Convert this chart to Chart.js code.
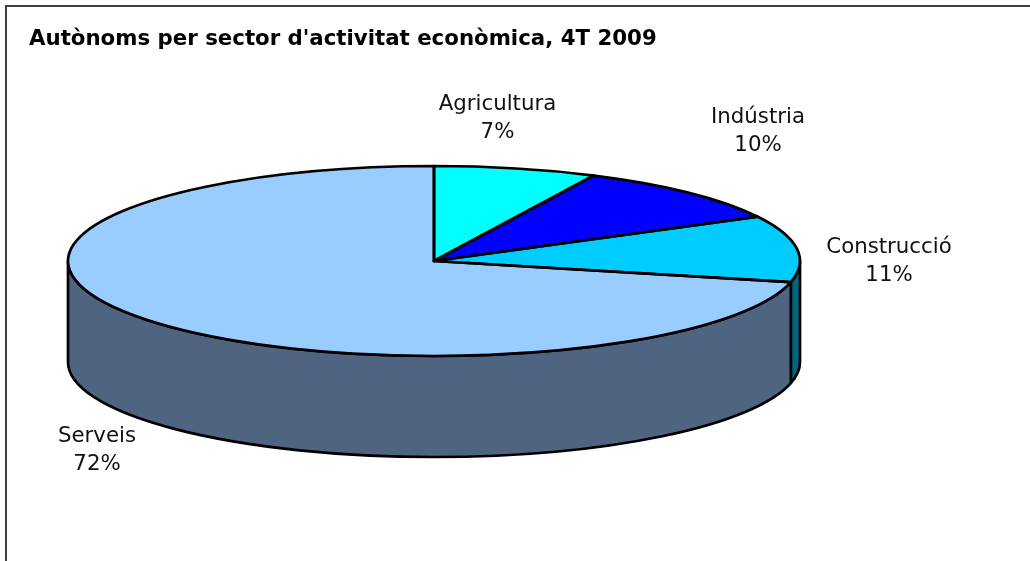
<!DOCTYPE html>
<html>
<head>
<meta charset="utf-8">
<title>Autònoms per sector</title>
<script src="https://cdn.jsdelivr.net/npm/chart.js@4"></script>
<style>
  html, body { margin: 0; padding: 0; background: #fff; overflow: hidden; }
  canvas { display: block; }
</style>
</head>
<body>
<canvas id="pie" width="1030" height="561"></canvas>
<script>
// dades llegides del gràfic
const sectors = ["Agricultura", "Indústria", "Construcció", "Serveis"];
const shares = [7.2, 10.1, 11.3, 71.5];
const topColors = ["#00FFFF", "#0000FF", "#00CCFF", "#99CCFF"];
const wallColors = ["#008080", "#000080", "#006680", "#4F6480"];

// geometria de la pastilla 3D
const pieBox = { cx: 434, cy: 261, rx: 366, ry: 95, depth: 101 };
// centre de cada etiqueta
const labelSpots = [[497.5, 118.5], [758, 131.5], [889, 261.5], [97, 450]];
const labelFont = "21.3px 'DejaVu Sans'";
const labelLine = 28;
const edgeWidth = 2.7;

function sliceAngles(chart) {
    return chart.getDatasetMeta(0).data.map(a => a.getProps(["startAngle", "endAngle"], true));
}

const pie3d = {
    id: "pie3d",
    beforeDraw(chart) {
        // marc gris (només dalt i esquerra, la resta queda fora de la imatge)
        const ctx = chart.ctx;
        ctx.save();
        ctx.strokeStyle = "#404040";
        ctx.lineWidth = 2;
        ctx.beginPath();
        ctx.moveTo(6, 561);
        ctx.lineTo(6, 6);
        ctx.lineTo(1030, 6);
        ctx.stroke();
        ctx.restore();
    },
    beforeDatasetsDraw(chart) {
        const ctx = chart.ctx;
        const { cx, cy, rx, ry, depth } = pieBox;

        // paret frontal: només la part de cada tros entre 0 i PI
        ctx.save();
        ctx.strokeStyle = "#000";
        ctx.lineWidth = edgeWidth;
        ctx.lineJoin = "round";
        sliceAngles(chart).forEach((s, i) => {
            const a = Math.max(s.startAngle, 0);
            const b = Math.min(s.endAngle, Math.PI);
            if (b <= a) return;
            ctx.beginPath();
            ctx.ellipse(cx, cy, rx, ry, 0, a, b);
            ctx.ellipse(cx, cy + depth, rx, ry, 0, b, a, true);
            ctx.closePath();
            ctx.fillStyle = wallColors[i];
            ctx.fill();
            ctx.stroke();
        });
        ctx.restore();

        // aixafem el pastís de Chart.js per fer la tapa el·líptica
        const arc = chart.getDatasetMeta(0).data[0];
        const p = arc.getProps(["x", "y", "outerRadius"], true);
        ctx.save();
        ctx.translate(cx, cy);
        ctx.scale(rx / p.outerRadius, ry / p.outerRadius);
        ctx.translate(-p.x, -p.y);
    },
    afterDatasetsDraw(chart) {
        const ctx = chart.ctx;
        ctx.restore();

        const { cx, cy, rx, ry } = pieBox;
        ctx.save();
        ctx.strokeStyle = "#000";
        ctx.lineWidth = edgeWidth;
        ctx.lineJoin = "round";
        sliceAngles(chart).forEach(s => {
            ctx.beginPath();
            ctx.moveTo(cx, cy);
            ctx.ellipse(cx, cy, rx, ry, 0, s.startAngle, s.endAngle);
            ctx.closePath();
            ctx.stroke();
        });
        ctx.restore();
    },
    afterDraw(chart) {
        const ctx = chart.ctx;
        ctx.save();
        ctx.font = labelFont;
        ctx.fillStyle = "#111";
        ctx.textAlign = "center";
        ctx.textBaseline = "middle";
        sectors.forEach((name, i) => {
            const [x, y] = labelSpots[i];
            ctx.fillText(name, x, y - labelLine / 2);
            ctx.fillText(Math.round(shares[i]) + "%", x, y + labelLine / 2);
        });
        ctx.restore();
    }
};

new Chart(document.getElementById("pie").getContext("2d"), {
    type: "pie",
    data: {
        labels: sectors,
        datasets: [{
            data: shares,
            backgroundColor: topColors,
            borderWidth: 0
        }]
    },
    options: {
        responsive: false,
        animation: false,
        layout: { padding: { left: 29, top: 27 } },
        plugins: {
            legend: { display: false },
            tooltip: { enabled: false },
            title: {
                display: true,
                text: "Autònoms per sector d'activitat econòmica, 4T 2009",
                align: "start",
                color: "#000",
                font: { family: "'DejaVu Sans'", size: 21.3, weight: "bold" },
                padding: 0
            }
        }
    },
    plugins: [pie3d]
});
</script>
</body>
</html>
